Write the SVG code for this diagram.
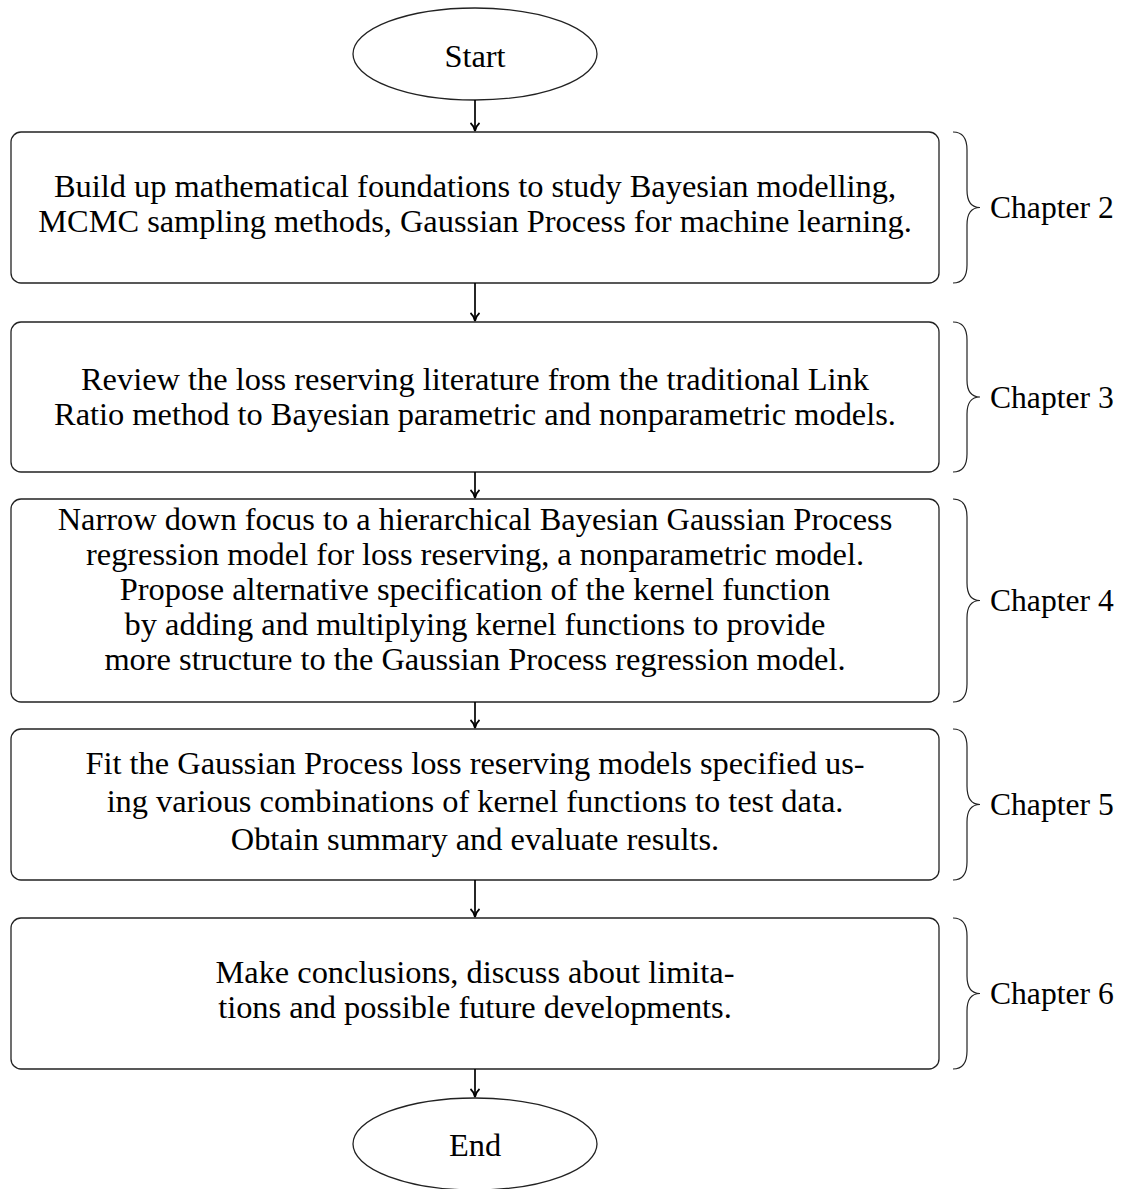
<svg xmlns="http://www.w3.org/2000/svg" width="1127" height="1189" viewBox="0 0 1127 1189">
<defs>
<style>
.box{fill:#fff;stroke:#222;stroke-width:1.3}
.t{font-family:"Liberation Serif","Times New Roman",serif;font-size:32.4px;fill:#000;text-anchor:middle}
.c{font-family:"Liberation Serif","Times New Roman",serif;font-size:31.6px;fill:#000}
.br{fill:none;stroke:#222;stroke-width:1.2}
.ar{fill:none;stroke:#000;stroke-width:1.7}
</style>
<marker id="ah" viewBox="0 0 10 10" refX="9" refY="5" markerWidth="10" markerHeight="10" markerUnits="userSpaceOnUse" orient="auto">
<path d="M1,0.5 Q4,4 9,5 Q4,6 1,9.5" fill="none" stroke="#000" stroke-width="1.8"/>
</marker>
</defs>
<rect width="1127" height="1189" fill="#fff"/>
<g id="start">
<ellipse class="box" cx="475" cy="54" rx="122" ry="46"/>
<text class="t" x="475" y="67">Start</text>
</g>
<g id="box1">
<rect class="box" x="11" y="132" width="928" height="151" rx="10"/>
<text class="t" x="475" y="197">Build up mathematical foundations to study Bayesian modelling,</text>
<text class="t" x="475" y="231.5">MCMC sampling methods, Gaussian Process for machine learning.</text>
</g>
<g id="box2">
<rect class="box" x="11" y="322" width="928" height="150" rx="10"/>
<text class="t" x="475" y="390">Review the loss reserving literature from the traditional Link</text>
<text class="t" x="475" y="424.5">Ratio method to Bayesian parametric and nonparametric models.</text>
</g>
<g id="box3">
<rect class="box" x="11" y="499" width="928" height="203" rx="10"/>
<text class="t" x="475" y="529.5">Narrow down focus to a hierarchical Bayesian Gaussian Process</text>
<text class="t" x="475" y="564.5">regression model for loss reserving, a nonparametric model.</text>
<text class="t" x="475" y="599.5">Propose alternative specification of the kernel function</text>
<text class="t" x="475" y="634.5">by adding and multiplying kernel functions to provide</text>
<text class="t" x="475" y="669.5">more structure to the Gaussian Process regression model.</text>
</g>
<g id="box4">
<rect class="box" x="11" y="729" width="928" height="151" rx="10"/>
<text class="t" x="475" y="774">Fit the Gaussian Process loss reserving models specified us-</text>
<text class="t" x="475" y="812">ing various combinations of kernel functions to test data.</text>
<text class="t" x="475" y="850">Obtain summary and evaluate results.</text>
</g>
<g id="box5">
<rect class="box" x="11" y="918" width="928" height="151" rx="10"/>
<text class="t" x="475" y="983">Make conclusions, discuss about limita-</text>
<text class="t" x="475" y="1018">tions and possible future developments.</text>
</g>
<g id="end">
<ellipse class="box" cx="475" cy="1144" rx="122" ry="46"/>
<text class="t" x="475" y="1156">End</text>
</g>
<g id="braces">
<path class="br" d="M953,132 Q967,132 967,150 L967,190 Q967,207.5 980,207.5 Q967,207.5 967,225 L967,265 Q967,283 953,283"/>
<path class="br" d="M953,322 Q967,322 967,340 L967,380 Q967,397 980,397 Q967,397 967,414 L967,454 Q967,472 953,472"/>
<path class="br" d="M953,499 Q967,499 967,517 L967,583 Q967,600.5 980,600.5 Q967,600.5 967,618 L967,684 Q967,702 953,702"/>
<path class="br" d="M953,729 Q967,729 967,747 L967,786 Q967,804.5 980,804.5 Q967,804.5 967,822 L967,862 Q967,880 953,880"/>
<path class="br" d="M953,918 Q967,918 967,936 L967,976 Q967,993.5 980,993.5 Q967,993.5 967,1011 L967,1051 Q967,1069 953,1069"/>
<text class="c" x="990" y="218">Chapter 2</text>
<text class="c" x="990" y="407.5">Chapter 3</text>
<text class="c" x="990" y="611">Chapter 4</text>
<text class="c" x="990" y="815">Chapter 5</text>
<text class="c" x="990" y="1004">Chapter 6</text>
</g>
<g id="connectors">
<line class="ar" x1="475" y1="100" x2="475" y2="131" marker-end="url(#ah)"/>
<line class="ar" x1="475" y1="283" x2="475" y2="321" marker-end="url(#ah)"/>
<line class="ar" x1="475" y1="472" x2="475" y2="498" marker-end="url(#ah)"/>
<line class="ar" x1="475" y1="702" x2="475" y2="728" marker-end="url(#ah)"/>
<line class="ar" x1="475" y1="880" x2="475" y2="917" marker-end="url(#ah)"/>
<line class="ar" x1="475" y1="1069" x2="475" y2="1097" marker-end="url(#ah)"/>
</g>
</svg>
